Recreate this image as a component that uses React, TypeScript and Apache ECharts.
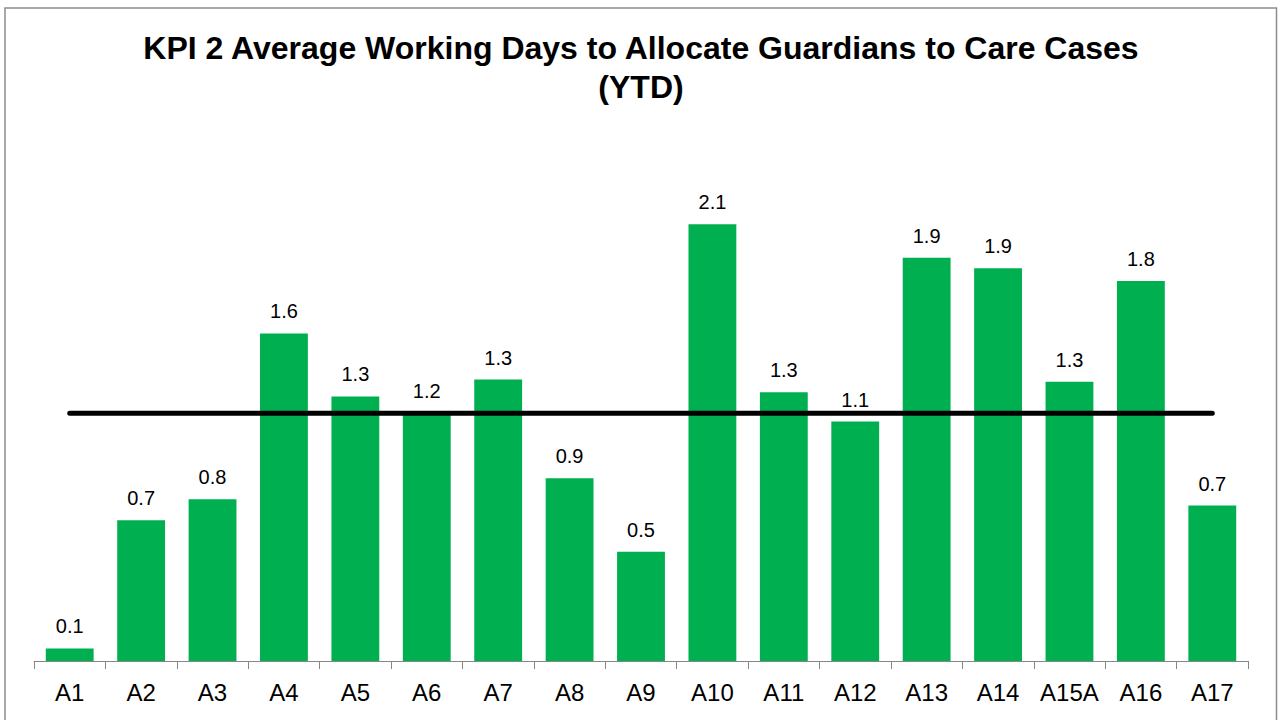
import React, { useEffect, useRef } from "react";
import * as echarts from "echarts";

const titleText = "KPI 2 Average Working Days to Allocate Guardians to Care Cases\n(YTD)";
const categories = ["A1", "A2", "A3", "A4", "A5", "A6", "A7", "A8", "A9", "A10", "A11", "A12", "A13", "A14", "A15A", "A16", "A17"];
const values = [0.06, 0.67, 0.77, 1.56, 1.26, 1.18, 1.34, 0.87, 0.52, 2.08, 1.28, 1.14, 1.92, 1.87, 1.33, 1.81, 0.74];
const averageLine = [1.18, 1.18, 1.18, 1.18, 1.18, 1.18, 1.18, 1.18, 1.18, 1.18, 1.18, 1.18, 1.18, 1.18, 1.18, 1.18, 1.18];

const FONT = "'Liberation Sans', Arial, Helvetica, sans-serif";

export default function App() {
  const ref = useRef<HTMLDivElement>(null);
  useEffect(() => {
    if (!ref.current) return;
    const chart = echarts.init(ref.current, undefined, { renderer: "svg" });
    chart.setOption({
      animation: false,
      backgroundColor: "#ffffff",
      textStyle: { fontFamily: FONT },
      title: {
        text: titleText,
        left: "center",
        top: 28,
        padding: 0,
        textStyle: { fontFamily: FONT, fontSize: 32, fontWeight: "bold", lineHeight: 39, color: "#000000" },
      },
      graphic: [
        {
          type: "rect",
          shape: { x: 5, y: 8, width: 1271.5, height: 800 },
          style: { fill: "none", stroke: "#8c8c8c", lineWidth: 1.5 },
          silent: true,
          z: 100,
        },
      ],
      grid: { left: 34, right: 34, top: 136, bottom: 59 },
      xAxis: {
        type: "category",
        data: categories,
        boundaryGap: true,
        axisLine: { show: true, lineStyle: { color: "#868686", width: 1 } },
        axisTick: { show: true, length: 8, alignWithLabel: false, lineStyle: { color: "#868686", width: 1 } },
        axisLabel: { color: "#000000", fontSize: 24, margin: 19, fontFamily: FONT, interval: 0 },
      },
      yAxis: {
        type: "value",
        min: 0,
        max: 2.5,
        show: false,
        splitLine: { show: false },
      },
      series: [
        {
          type: "bar",
          data: values,
          barCategoryGap: "33%",
          itemStyle: { color: "#00B050" },
          label: {
            show: true,
            position: "top",
            distance: 12,
            color: "#000000",
            fontSize: 20,
            fontFamily: FONT,
            formatter: (p: any) => (Math.round(p.value * 10) / 10).toFixed(1),
          },
          z: 2,
        },
        {
          type: "line",
          data: averageLine,
          symbol: "none",
          silent: true,
          lineStyle: { color: "#000000", width: 5, cap: "round" },
          z: 5,
        },
      ],
    });
    return () => chart.dispose();
  }, []);
  return (
    <div
      ref={ref}
      style={{ position: "absolute", left: 0, top: 0, width: 1282, height: 720 }}
    />
  );
}
